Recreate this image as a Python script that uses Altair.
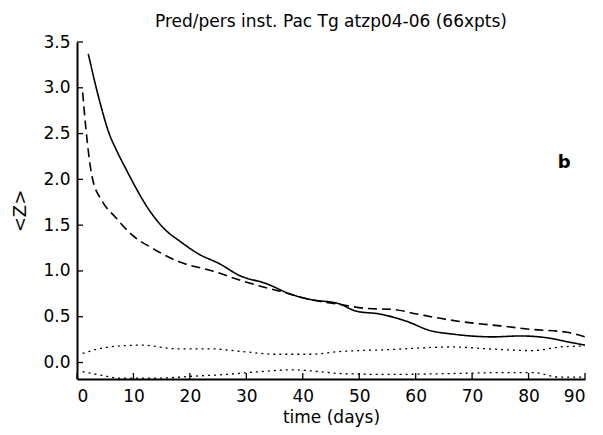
import altair as alt
import pandas as pd

# Solid line (prediction)
solid_x = [2, 3.9, 5.7, 6.9, 8.7, 10.5, 12.2, 15.8, 18.1, 21.7, 25.2, 28.8, 33.6, 37.7, 41.2, 46.5, 49.5, 53.6, 58.4, 62.5, 66.6, 73.7, 78.5, 83.3, 87.4, 90]
solid_y = [3.37, 2.88, 2.50, 2.33, 2.11, 1.90, 1.72, 1.44, 1.33, 1.18, 1.08, 0.95, 0.86, 0.75, 0.69, 0.64, 0.56, 0.53, 0.45, 0.35, 0.31, 0.28, 0.29, 0.27, 0.22, 0.19]

# Dashed line (persistence)
dash_x = [1, 1.6, 2.7, 4.5, 6.9, 9.8, 13.3, 18.1, 24.0, 29.3, 36.4, 41.2, 47.0, 51.3, 56.0, 60.2, 65.5, 70.2, 75.0, 80.8, 86.8, 90]
dash_y = [2.95, 2.54, 2.02, 1.76, 1.58, 1.39, 1.25, 1.10, 1.00, 0.89, 0.77, 0.69, 0.63, 0.59, 0.58, 0.53, 0.47, 0.43, 0.40, 0.36, 0.33, 0.28]

# Upper dotted line
dotu_x = [1, 5.7, 11.5, 17.6, 23.4, 29.3, 35.3, 41.2, 46.5, 54.9, 66.6, 72.6, 80.8, 85.6, 90]
dotu_y = [0.10, 0.17, 0.19, 0.15, 0.15, 0.12, 0.09, 0.09, 0.12, 0.14, 0.17, 0.15, 0.13, 0.17, 0.18]

# Lower dotted line
dotl_x = [1, 4.4, 7.5, 14.6, 20.4, 26.5, 32.3, 38.2, 43.0, 46.5, 54.9, 66.6, 75.5, 80.8, 85.6, 90]
dotl_y = [-0.10, -0.14, -0.17, -0.17, -0.15, -0.13, -0.10, -0.08, -0.10, -0.12, -0.13, -0.12, -0.11, -0.11, -0.16, -0.16]

x_ticks = [0, 10, 20, 30, 40, 50, 60, 70, 80, 90]
y_ticks = [0.0, 0.5, 1.0, 1.5, 2.0, 2.5, 3.0, 3.5]

panel_label = "b"
label_x = [86.3]
label_y = [2.18]

FONT = "DejaVu Sans"
W, H = 508, 337

xs = alt.Scale(domain=[0, 90], nice=False)
ys = alt.Scale(domain=[-0.18, 3.5], nice=False)

rows = []
for name, xx, yy in [("solid", solid_x, solid_y), ("dash", dash_x, dash_y),
                     ("dotu", dotu_x, dotu_y), ("dotl", dotl_x, dotl_y)]:
    for a, b in zip(xx, yy):
        rows.append({"series": name, "t": a, "z": b})
df = pd.DataFrame(rows)

def line(name, dash, width):
    return alt.Chart(df[df.series == name]).mark_line(
        color="black", strokeWidth=width, strokeDash=dash, interpolate="monotone", clip=True
    ).encode(
        x=alt.X("t:Q", scale=xs, axis=alt.Axis(values=x_ticks, title="time (days)", ticks=False,
                                                 grid=False, domainWidth=2, domainColor="black",
                                                 labelPadding=9, titlePadding=5, titleFontSize=17,
                                                 format="d")),
        y=alt.Y("z:Q", scale=ys, axis=alt.Axis(values=y_ticks, title="<Z>", ticks=False,
                                                 grid=False, domainWidth=2, domainColor="black",
                                                 labelPadding=7, titlePadding=13, format=".1f")),
    )

solid = line("solid", [1, 0], 1.6)
dash = line("dash", [9, 5], 1.6)
dotu = line("dotu", [2, 4], 1.3)
dotl = line("dotl", [2, 4], 1.3)

ytick_df = pd.DataFrame({"z": y_ticks})
xtick_df = pd.DataFrame({"t": x_ticks})

yt = alt.Chart(ytick_df).mark_rule(color="black", strokeWidth=1.3).encode(
    y=alt.Y("z:Q", scale=ys), x=alt.value(0), x2=alt.value(6))
xt = alt.Chart(xtick_df).mark_rule(color="black", strokeWidth=1.3).encode(
    x=alt.X("t:Q", scale=xs), y=alt.value(H), y2=alt.value(H - 6))

lab = alt.Chart(pd.DataFrame({"t": label_x, "z": label_y, "s": [panel_label]})).mark_text(
    font=FONT, fontSize=18, fontWeight="bold", color="black"
).encode(x=alt.X("t:Q", scale=xs), y=alt.Y("z:Q", scale=ys), text="s:N")

chart = alt.layer(solid, dash, dotu, dotl, yt, xt, lab).properties(
    width=W, height=H,
    title=alt.TitleParams("Pred/pers inst. Pac Tg atzp04-06 (66xpts)", font=FONT, fontSize=17,
                          fontWeight="normal", anchor="middle", offset=2, color="black"),
    padding={"left": 77, "top": 42, "right": 18, "bottom": 56},
    autosize="none",
).configure_view(stroke=None).configure_axis(
    labelFont=FONT, labelFontSize=17, labelColor="black",
    titleFont=FONT, titleFontSize=18, titleFontWeight="normal", titleColor="black",
)

chart.save("out.html", embed_options={"renderer": "svg", "actions": False})
